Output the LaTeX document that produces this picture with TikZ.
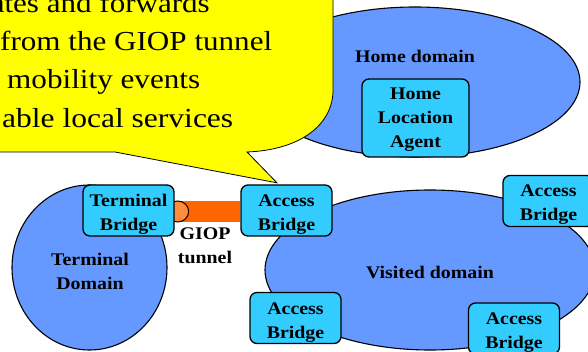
\documentclass[tikz,border=0pt]{standalone}
\usepackage{graphicx}
\usepackage{fontspec}
\setmainfont{Liberation Serif}[FakeStretch=1.12]
\newfontfamily\calloutfont{Liberation Serif}
\usetikzlibrary{shapes.geometric,backgrounds}
\definecolor{domainblue}{HTML}{6699FF}
\definecolor{bridgecyan}{HTML}{33CCFF}
\definecolor{tunnelorange}{HTML}{FF6600}
\definecolor{tunnelcap}{HTML}{FF8C3A}
\definecolor{calloutyellow}{HTML}{FFFF00}
% set a callout line to a fixed width, keeping its height
\newcommand{\spanline}[2]{\resizebox{#1}{\height}{#2}}

\begin{document}
\begin{tikzpicture}[x=1pt,y=-1pt,
  domainshape/.style={ellipse, draw=black, line width=1.1pt, fill=domainblue, inner sep=0pt},
  labelfont/.style={font=\bfseries\fontsize{17.75}{24}\selectfont},
  bridge/.style={rectangle, rounded corners=7pt, draw=black, line width=1.3pt,
    fill=bridgecyan, minimum width=91pt, minimum height=51pt, inner sep=0pt,
    align=center, text height=40pt, text depth=0pt, labelfont},
  lbl/.style={inner sep=0pt, align=center, text depth=0pt, labelfont},
  tunnel/.style={line width=21pt, tunnelorange},
  tunnelend/.style={draw=black, line width=1pt, fill=tunnelcap},
  callout/.style={draw=black, line width=0.8pt, fill=calloutyellow},
  callouttext/.style={anchor=base west, inner sep=0pt, font=\calloutfont\fontsize{27.5}{33}\selectfont}]
\useasboundingbox (0,0) rectangle (588,352);

% home domain with its location agent
\node[domainshape, minimum width=330pt, minimum height=150pt] (home) at (415,82) {};
\node[bridge, minimum width=107pt, minimum height=78pt, text height=59pt] (hla) at (415.5,118)
  {Home\\Location\\Agent};
\node[lbl, text height=12pt] (homelbl) at (415,56.5) {Home domain};

% visited and terminal domains
\node[domainshape, minimum width=330pt, minimum height=160pt] (visited) at (430,270) {};
\node[domainshape, minimum width=155pt, minimum height=165pt] (terminal) at (89.5,267.5) {};
\node[lbl, text height=12pt] (visitedlbl) at (430,272.3) {Visited domain};
\node[lbl, text height=36pt] (terminallbl) at (90,271) {Terminal\\Domain};

% bridges
\node[bridge] (tb) at (128.5,210.5) {Terminal\\Bridge};
\node[bridge] (ab1) at (286.5,210.5) {Access\\Bridge};
\node[bridge] (ab2) at (548.5,201) {Access\\Bridge};
\node[bridge] (ab3) at (295.5,318) {Access\\Bridge};
\node[bridge] (ab4) at (514,328.5) {Access\\Bridge};

% GIOP tunnel between terminal bridge and access bridge
\begin{pgfonlayer}{background}
  \draw[tunnel] ([yshift=-1pt]tb.east) -- ([yshift=-1pt]ab1.west);
  \draw[tunnelend] ([xshift=3pt,yshift=-1pt]tb.east) ellipse [x radius=11, y radius=10.5];
\end{pgfonlayer}
\node[lbl, text height=36pt] (gioplbl) at (205,246) {GIOP\\tunnel};

% speech callout pointing at the access bridge
\coordinate (tip) at (ab1.north -| 277,0);
\draw[callout] (-20,-20) -- (333,-20) -- (333,90)
  .. controls (333,125) and (300,150) .. (247,152)
  -- ([yshift=1.5pt]tip) -- (115,152) -- (-20,152) -- cycle;
\node[callouttext, anchor=base east] (c1) at (210,13) {\spanline{219pt}{ates and forwards}};
\node[callouttext] (c2) at (0,50.5) {\spanline{272pt}{from the GIOP tunnel}};
\node[callouttext] (c3) at (7,88.5) {\spanline{193pt}{mobility events}};
\node[callouttext] (c4) at (2,128) {\spanline{231pt}{able local services}};
\end{tikzpicture}
\end{document}
